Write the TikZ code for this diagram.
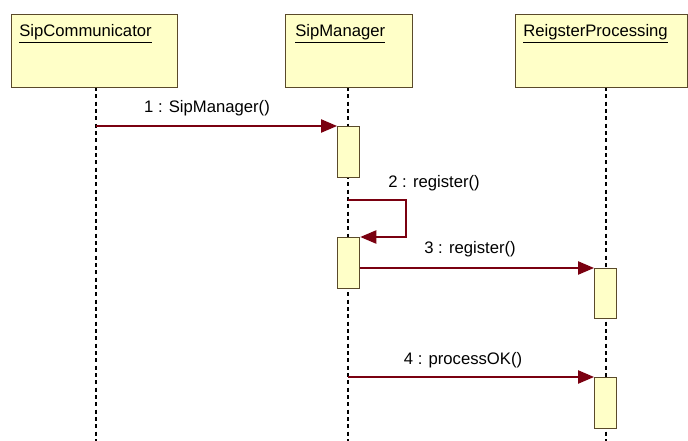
\documentclass[tikz,border=0pt]{standalone}
\usepackage{fontspec}
\setmainfont{Liberation Sans}
\usetikzlibrary{arrows.meta}
\definecolor{objfill}{HTML}{FFFFC8}
\definecolor{objedge}{HTML}{5A4A2A}
\definecolor{msg}{HTML}{7A0010}
\tikzset{
  obj/.style={draw=objedge, fill=objfill, line width=1pt, minimum width=#1, minimum height=54.75pt, inner sep=0pt},
  act/.style={draw=objedge, fill=objfill, line width=1pt, minimum width=16.5pt, minimum height=#1, inner sep=0pt},
  life/.style={draw=black, line width=1pt, dash pattern=on 3pt off 2.5pt},
  call/.style={draw=msg, line width=1pt, -{Triangle[length=12pt, width=10pt, fill=msg]}},
  lbl/.style={font=\fontsize{12.5pt}{14pt}\selectfont, inner sep=0pt},
  title/.style={font=\fontsize{12.5pt}{14pt}\selectfont, inner sep=0pt, anchor=base west}
}
\begin{document}
\begin{tikzpicture}[x=0.75pt, y=-0.75pt]
\useasboundingbox (0,0) rectangle (688,441);
\fill[white] (0,0) rectangle (688,441);

% lifelines
\coordinate (l1t) at (96,87);   \coordinate (l1b) at (96,441);
\coordinate (l2t) at (348,87);  \coordinate (l2b) at (348,441);
\coordinate (l3t) at (606,87);  \coordinate (l3b) at (606,441);
\draw[life] (l1t) -- (l1b);
\draw[life] (l2t) -- (l2b);
\draw[life] (l3t) -- (l3b);

% object boxes
\node[obj=124.5pt, anchor=north west] (comm) at (11,14) {};
\node[obj=95.25pt, anchor=north west] (mgr) at (285,14) {};
\node[obj=129pt, anchor=north west] (reg) at (515,14) {};
\node[title] (commt) at (19,37) {\underline{SipCommunicator}};
\node[title] (mgrt) at (295,37) {\underline{SipManager}};
\node[title] (regt) at (523,37) {\underline{ReigsterProcessing}};

% activation bars
\node[act=38.25pt, anchor=north west] (a1) at (337,126) {};
\node[act=38.25pt, anchor=north west] (a2) at (337,237) {};
\node[act=37.5pt, anchor=north west] (a3) at (594,268) {};
\node[act=38.25pt, anchor=north west] (a4) at (594,377) {};

% message anchors
\coordinate (m1s) at (96,126);
\coordinate (m2s) at (348,200);
\coordinate (m2a) at (406,200);
\coordinate (m2b) at (406,237);
\coordinate (m4s) at (348,377);

% messages
\draw[call] (m1s) -- (a1.north west);
\draw[call] (m2s) -- (m2a) -- (m2b) -- (a2.north east);
\draw[call] (a2.east |- a3.north west) -- (a3.north west);
\draw[call] (m4s) -- (a4.north west);

% message labels
\node[lbl] (t1) at (207,108) {1 : SipManager()};
\node[lbl] (t2) at (434,183) {2 : register()};
\node[lbl] (t3) at (470,249) {3 : register()};
\node[lbl] (t4) at (463,360) {4 : processOK()};
\end{tikzpicture}
\end{document}
